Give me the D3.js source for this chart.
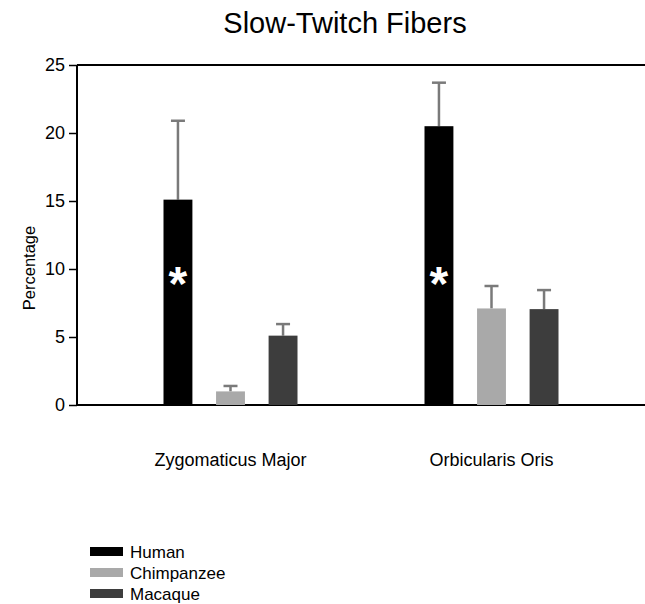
<!DOCTYPE html>
<html>
<head>
    <title></title>
    <meta charset="utf-8">
    <style>
        body { margin: 0; background: #fff; }
        text { font-family: 'Liberation Sans', Arial, sans-serif; }
    </style>
</head>
<body>
<script src="https://cdn.jsdelivr.net/npm/d3@7"></script>
<script>
    var categories = ['Zygomaticus Major', 'Orbicularis Oris'];
    var species = ['Human', 'Chimpanzee', 'Macaque'];
    var means = {
        'Human': [15.1, 20.5],
        'Chimpanzee': [1.0, 7.1],
        'Macaque': [5.1, 7.05]
    };
    var upper = {
        'Human': [20.9, 23.7],
        'Chimpanzee': [1.4, 8.75],
        'Macaque': [5.95, 8.45]
    };
    var yTicks = [0, 5, 10, 15, 20, 25];
    var colors = ['#000000', '#a9a9a9', '#3d3d3d'];

    var svg = d3.select('body').append('svg')
        .attr('width', 645)
        .attr('height', 604);

    var plot = { left: 77, right: 645, top: 65, bottom: 405 };

    var y = d3.scaleLinear().domain([0, 25]).range([plot.bottom, plot.top]);
    var x0 = d3.scaleBand().domain(categories).range([100, 622]);
    var x1 = d3.scaleBand().domain(species).range([-67, 67]).paddingInner(0.45);
    var color = d3.scaleOrdinal().domain(species).range(colors);

    svg.append('text')
        .attr('x', 345)
        .attr('y', 33)
        .attr('text-anchor', 'middle')
        .attr('font-size', 29)
        .text('Slow-Twitch Fibers');

    // frame lines: top and bottom
    svg.append('line')
        .attr('x1', plot.left).attr('x2', plot.right)
        .attr('y1', plot.top).attr('y2', plot.top)
        .attr('stroke', '#000').attr('stroke-width', 2);

    var yAxis = svg.append('g')
        .attr('transform', 'translate(' + plot.left + ',0)')
        .call(d3.axisLeft(y).tickValues(yTicks).tickSize(8).tickPadding(4));
    yAxis.select('.domain').attr('stroke-width', 2).attr('d', 'M0,' + plot.top + 'V' + plot.bottom);
    yAxis.selectAll('.tick line').attr('stroke-width', 1.5);
    yAxis.selectAll('text').attr('font-size', 18).attr('fill', '#000')
        .style('font-family', "'Liberation Sans', Arial, sans-serif");

    svg.append('line')
        .attr('x1', plot.left).attr('x2', plot.right)
        .attr('y1', plot.bottom).attr('y2', plot.bottom)
        .attr('stroke', '#000').attr('stroke-width', 2);

    svg.append('text')
        .attr('transform', 'translate(35,268) rotate(-90)')
        .attr('text-anchor', 'middle')
        .attr('font-size', 16.5)
        .text('Percentage');

    var rows = [];
    species.forEach(function (s) {
        categories.forEach(function (c, i) {
            rows.push({ s: s, c: c, v: means[s][i], hi: upper[s][i] });
        });
    });

    var bars = svg.selectAll('g.bar').data(rows).enter()
        .append('g')
        .attr('class', 'bar')
        .attr('transform', function (d) {
            return 'translate(' + (x0(d.c) + x0.bandwidth() / 2 + x1(d.s)) + ',0)';
        });

    bars.append('line')
        .attr('x1', x1.bandwidth() / 2).attr('x2', x1.bandwidth() / 2)
        .attr('y1', function (d) { return y(d.v); })
        .attr('y2', function (d) { return y(d.hi); })
        .attr('stroke', '#7a7a7a').attr('stroke-width', 2.5);

    bars.append('line')
        .attr('x1', x1.bandwidth() / 2 - 7).attr('x2', x1.bandwidth() / 2 + 7)
        .attr('y1', function (d) { return y(d.hi); })
        .attr('y2', function (d) { return y(d.hi); })
        .attr('stroke', '#7a7a7a').attr('stroke-width', 2.5);

    bars.append('rect')
        .attr('x', 0)
        .attr('width', x1.bandwidth())
        .attr('y', function (d) { return y(d.v); })
        .attr('height', function (d) { return y(0) - y(d.v); })
        .attr('fill', function (d) { return color(d.s); });

    // significance stars on the human bars
    bars.filter(function (d) { return d.s === 'Human'; })
        .append('text')
        .attr('x', x1.bandwidth() / 2)
        .attr('y', y(10) + 31)
        .attr('text-anchor', 'middle')
        .attr('font-size', 48)
        .attr('font-weight', 'bold')
        .attr('fill', '#fff')
        .text('*');

    svg.selectAll('text.cat').data(categories).enter()
        .append('text')
        .attr('class', 'cat')
        .attr('x', function (d) { return x0(d) + x0.bandwidth() / 2; })
        .attr('y', 466)
        .attr('text-anchor', 'middle')
        .attr('font-size', 18)
        .text(function (d) { return d; });

    var legend = svg.selectAll('g.legend').data(species).enter()
        .append('g')
        .attr('class', 'legend')
        .attr('transform', function (d, i) { return 'translate(90,' + (552 + i * 21) + ')'; });

    legend.append('rect')
        .attr('x', 0).attr('y', -5)
        .attr('width', 33).attr('height', 9)
        .attr('fill', function (d) { return color(d); });

    legend.append('text')
        .attr('x', 40).attr('y', 6)
        .attr('font-size', 17)
        .text(function (d) { return d; });
</script>
</body>
</html>
